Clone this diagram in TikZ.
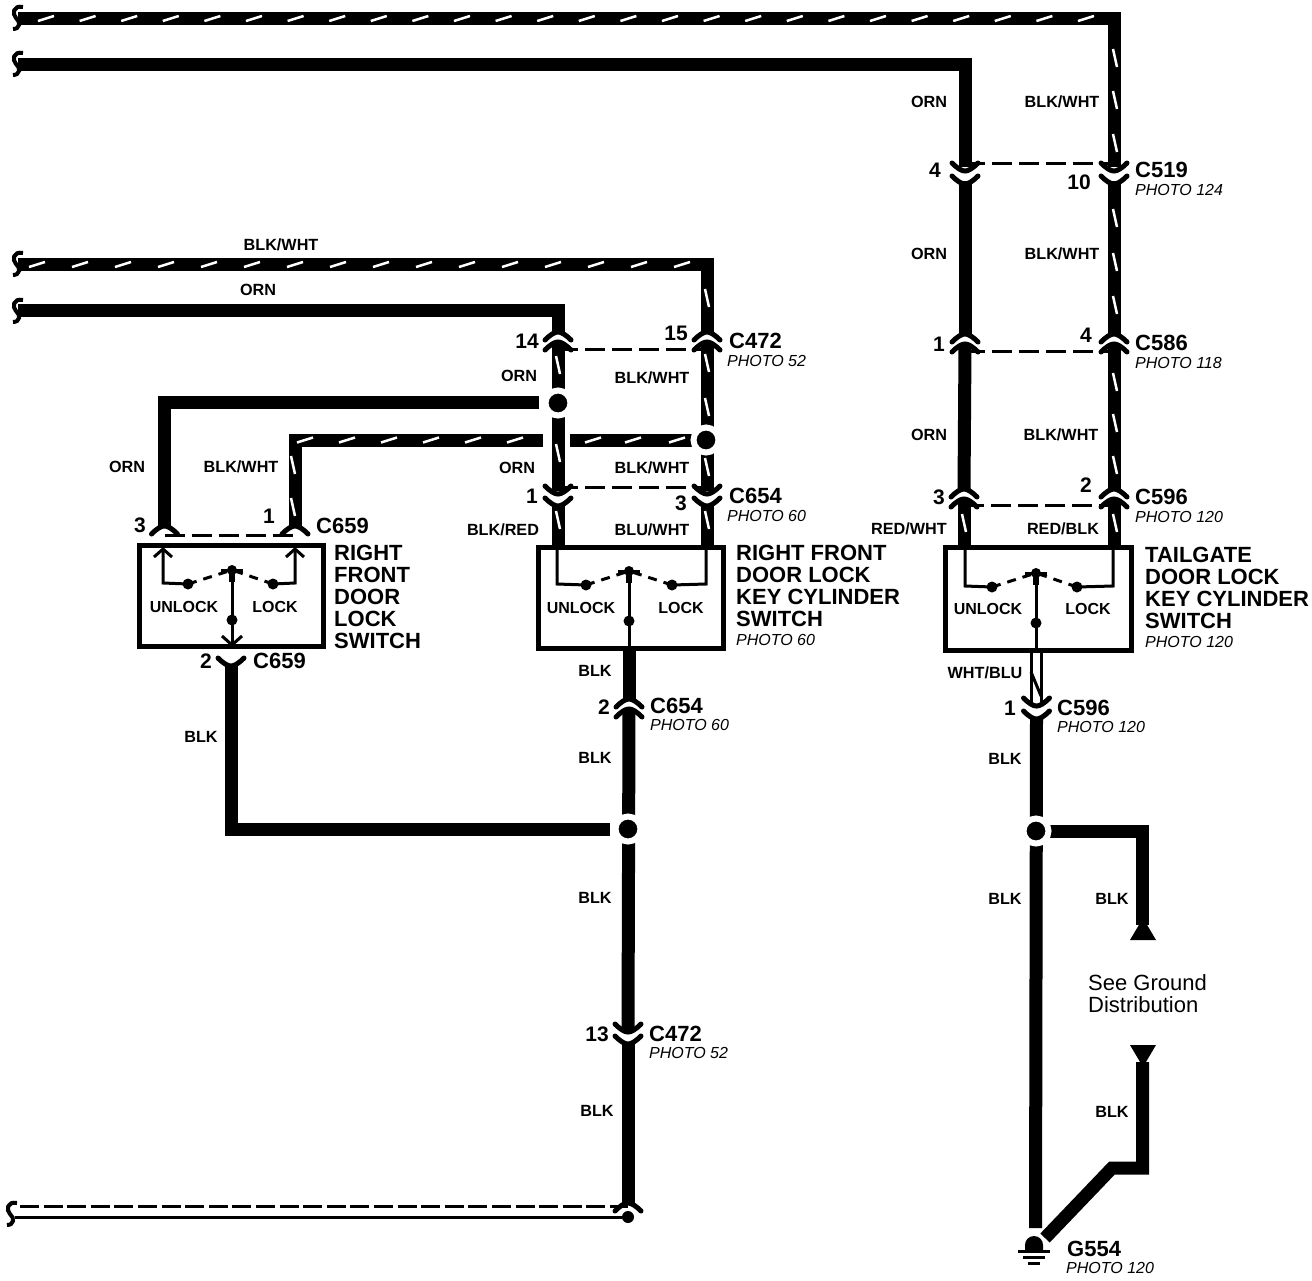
\documentclass[tikz,border=0pt]{standalone}
\usepackage{fontspec}
\usetikzlibrary{calc}
\setmainfont{Liberation Sans}
\newcommand{\chU}[2]{\draw[chev] ({#1-13},{#2+4}) .. controls ({#1-7},{#2-2}) and ({#1-3},{#2-4}) .. (#1,{#2-4}) .. controls ({#1+3},{#2-4}) and ({#1+7},{#2-2}) .. ({#1+13},{#2+4});}
\newcommand{\chD}[2]{\draw[chev] ({#1-13},{#2-4}) .. controls ({#1-7},{#2+2}) and ({#1-3},{#2+4}) .. (#1,{#2+4}) .. controls ({#1+3},{#2+4}) and ({#1+7},{#2+2}) .. ({#1+13},{#2-4});}
\newcommand{\hst}[2]{\draw[stripe] ({#1-8},{#2+2.5}) -- ({#1+8},{#2-2.5});}
\newcommand{\vst}[2]{\draw[stripe] ({#1-2},{#2-9}) -- ({#1+2},{#2+9});}
\newcommand{\brk}[2]{\draw[brkline] ({#1+7},{#2-11}) .. controls ({#1-3},{#2-13}) and ({#1-4},{#2-4}) .. (#1,{#2}) .. controls ({#1+5},{#2+4}) and ({#1+4},{#2+11}) .. ({#1-3},{#2+11});}
\newcommand{\swt}[5]{% left x, right x, centre x, top y, bottom y of the contacts
  \draw[swl,dash pattern=on 9pt off 7pt] (#1,{#4+14}) -- (#3,#4);
  \draw[swl,dash pattern=on 9pt off 7pt] (#2,{#4+14}) -- (#3,#4);
  \fill (#1,{#4+14}) circle (5.5);
  \fill (#2,{#4+14}) circle (5.5);
  \fill (#3,#4) circle (5);
  \draw[swl] ({#3-11},#4) -- ({#3+11},#4);
  \draw[swl,line width=6pt] (#3,#4) -- (#3,{#4+12});
  \draw[swl] (#3,#4) -- (#3,#5);
  \fill (#3,{#4+50}) circle (5.5);}
\tikzset{
  wire/.style={line width=13pt,line join=miter},
  chev/.style={line width=5pt,line cap=round},
  stripe/.style={white,line width=2.5pt},
  brkline/.style={line width=4pt},
  tie/.style={line width=3pt,dash pattern=on 20pt off 7pt},
  botdash/.style={line width=3pt,dash pattern=on 19pt off 4.6pt},
  swl/.style={line width=3pt},
  boxx/.style={line width=5pt},
  dotn/.style={circle,fill=black,draw=white,line width=6pt,minimum size=25pt,inner sep=0pt},
  wl/.style={font=\bfseries\fontsize{16.2}{17}\selectfont,inner sep=0pt},
  pin/.style={font=\bfseries\fontsize{21}{22}\selectfont,inner sep=0pt},
  cn/.style={font=\bfseries\fontsize{22}{22}\selectfont,inner sep=0pt,anchor=west},
  ph/.style={font=\itshape\fontsize{16}{18}\selectfont,inner sep=0pt,anchor=west},
  tt/.style={font=\bfseries\fontsize{22}{22}\selectfont,inner sep=0pt,anchor=north west,align=left},
  sw/.style={font=\bfseries\fontsize{16}{16}\selectfont,inner sep=0pt},
  gd/.style={font=\fontsize{22}{22}\selectfont,inner sep=0pt,anchor=west}
}
\begin{document}
\begin{tikzpicture}[x=1pt,y=-1pt]
\useasboundingbox (0,0) rectangle (1312,1280);
\fill[white] (0,0) rectangle (1312,1280);
% named points
\foreach \n/\x/\y in {t1/18/18.5,t1c/1114/18.5,t2/18/64.5,t2c/965/64.5,
  a519/965/167,b519/1114/167,c519/965/181,d519/1114/181,
  a586/965/336,b586/1114/336,c586/965/346,d586/1114/346,
  a596/964/491,b596/1114/491,c596/964/501,d596/1114/501,
  a472/558/334,b472/707/334,c472/558/344,d472/707/344,
  a654/558/491,b654/707/491,c654/558/506,d654/707/506,
  e659/164.5/526,f659/295/526,g659/231/666,
  h654/629/701,i654/629/711,
  j472/628/1030,k472/628/1043,
  m596/1036.5/718,
  bot/628/1203,
  s1/18/264.5,s1c/707/264.5,s2/18/310.5,s2c/558/310.5,
  o1/164.5/402.5,o2/539/402.5,
  p1/295/440,p2/543/440,p3/570/440,p4/700/440,
  b1a/558/548,b1b/707/548,b3a/964/548,b3b/1114/548,
  lo1/629/650,lo2/231/829,lo3/610/829,
  r1/1036.5/831.5,r2/1142.5/831.5,r3/1142.5/925,r4/1142.5/1062,r5/1142.5/1168,r6/1112/1168,r7/1045/1238,r8/1035.5/1228,
  w1/1031/652,w2/1041/652,w3/1031/704,w4/1041/704,
  tA1/965/163,tA2/1114/163,tB1/965/351,tB2/1114/351,tC1/964/505,tC2/1114/505,
  tD1/558/349,tD2/707/349,tE1/558/487,tE2/707/487,tF1/164.5/535,tF2/295/535,
  bdl/20/1206,bdr/628/1206,bsl/15/1217,bsr/628/1217}
  {\coordinate (\n) at (\x,\y);}
% main wires
\draw[wire] (t1) -- (t1c) -- (b519);
\draw[wire] (t2) -- (t2c) -- (a519);
\draw[wire] (c519) -- (a586);
\draw[wire] (d519) -- (b586);
\draw[wire] (c586) -- (a596);
\draw[wire] (d586) -- (b596);
\draw[wire] (c596) -- (b3a);
\draw[wire] (d596) -- (b3b);
\draw[wire] (s1) -- (s1c) -- (b472);
\draw[wire] (s2) -- (s2c) -- (a472);
\draw[wire] (c472) -- (a654);
\draw[wire] (d472) -- (b654);
\draw[wire] (c654) -- (b1a);
\draw[wire] (d654) -- (b1b);
\draw[wire] (o2) -- (o1) -- (e659);
\draw[wire] (p2) -- (p1) -- (f659);
\draw[wire] (p3) -- (p4);
\draw[wire] (g659) -- (lo2) -- (lo3);
\draw[wire] (lo1) -- (h654);
\draw[wire] (i654) -- (j472);
\draw[wire] (k472) -- (bot);
\draw[wire] (m596) -- (r8);
\draw[wire] (r1) -- (r2) -- (r3);
\draw[wire] (r4) -- (r5) -- (r6) -- (r7);
\draw[line width=3pt] (w1) -- (w3);
\draw[line width=3pt] (w2) -- (w4);
\draw[line width=3pt] (1031,672) -- (1041,696);
% tie lines
\draw[tie] (tA1) -- (tA2);
\draw[tie] (tB1) -- (tB2);
\draw[tie] (tC1) -- (tC2);
\draw[tie] (tD1) -- (tD2);
\draw[tie] (tE1) -- (tE2);
\draw[tie] (tF1) -- (tF2);
% connector chevrons
\chD{965}{167}\chD{965}{180}\chD{1114}{167}\chD{1114}{180}
\chU{965}{338}\chU{965}{348}\chU{1114}{338}\chU{1114}{348}
\chU{964}{493}\chU{964}{503}\chU{1114}{493}\chU{1114}{503}
\chU{558}{336}\chU{558}{346}\chU{707}{336}\chU{707}{346}
\chD{558}{490}\chD{558}{502}\chD{707}{490}\chD{707}{502}
\chU{164.5}{530}\chU{295}{530}
\chD{231}{662}
\chU{629}{703}\chU{629}{713}
\chD{628}{1028}\chD{628}{1040}
\chD{1036.5}{702}\chD{1036.5}{715}
\chU{628}{1207}
% bottom left lines
\draw[botdash] (bdl) -- (bdr);
\draw[line width=3pt] (bsl) -- (bsr);
\fill (bsr) circle (6);
% stripes
\foreach \x in {46,87.6,...,1100} {\hst{\x}{18.5}}
\foreach \y in {58,100,143,218,262,305,382,423,465,523} {\vst{1115}{\y}}
\vst{964}{523}
\foreach \x in {37,80,...,690} {\hst{\x}{264.5}}
\foreach \x in {305,347,...,530} {\hst{\x}{440}}
\foreach \x in {593,633,677} {\hst{\x}{440}}
\foreach \y in {298,363,407,467,520} {\vst{707}{\y}}
\foreach \y in {365,453,520} {\vst{558}{\y}}
\foreach \y in {465,507} {\vst{293}{\y}}
% break marks
\brk{16}{18}\brk{16}{64}\brk{16}{264}\brk{16}{311}\brk{10}{1214}
% junction dots
\node[dotn] (j1) at (558,403) {};
\node[dotn] (j2) at (706,440) {};
\node[dotn] (j3) at (628,829) {};
\node[dotn] (j4) at (1036,831) {};
% boxes
\node[draw,boxx,minimum width=184pt,minimum height=101pt,inner sep=0pt] (box1) at (231.5,596) {};
\node[draw,boxx,minimum width=185pt,minimum height=101pt,inner sep=0pt] (box2) at (631,597.5) {};
\node[draw,boxx,minimum width=186pt,minimum height=103pt,inner sep=0pt] (box3) at (1038.5,598.5) {};
% switch 1
\draw[swl] (163,549) -- (163,583) -- (188,584);
\draw[swl] (295,549) -- (295,583) -- (273,584);
\draw[swl] (154,557) -- (163,549) -- (172,557);
\draw[swl] (286,557) -- (295,549) -- (304,557);
\swt{188}{273}{232}{570}{645}
\draw[swl] (222,636) -- (232,645) -- (242,636);
% switch 2
\draw[swl] (557,548) -- (557,584) -- (586,585);
\draw[swl] (706,548) -- (706,584) -- (672,585);
\swt{586}{672}{629}{571}{648}
% switch 3
\draw[swl] (965,548) -- (965,586) -- (992,587);
\draw[swl] (1113,548) -- (1113,586) -- (1077,587);
\swt{992}{1077}{1036}{573}{648}
% ground triangles
\fill (1143,918) -- (1156,940) -- (1130,940) -- cycle;
\fill (1130,1045) -- (1156,1045) -- (1143,1067) -- cycle;
% ground
\fill (1025,1245) arc (180:360:9) -- (1043,1251) -- (1025,1251) -- cycle;
\draw[line width=3pt] (1018,1251) -- (1050,1251);
\draw[line width=3pt] (1023,1257) -- (1045,1257);
\draw[line width=3pt] (1028,1263) -- (1040,1263);
% wire labels
\foreach \n/\x/\y/\t in {a/929/102/ORN,b/1062/102/BLK\slash WHT,c/929/254/ORN,d/1062/254/BLK\slash WHT,e/929/435/ORN,f/1061/435/BLK\slash WHT,
 g/281/245/BLK\slash WHT,h/258/290/ORN,i/519/376/ORN,j/652/378/BLK\slash WHT,k/517/468/ORN,l/652/468/BLK\slash WHT,
 m/503/530/BLK\slash RED,n/652/530/BLU\slash WHT,o/127/467/ORN,p/241/467/BLK\slash WHT,q/909/529/RED\slash WHT,r/1063/529/RED\slash BLK,
 s/595/671/BLK,t/595/758/BLK,u/595/898/BLK,v/597/1111/BLK,w/201/737/BLK,x/985/673/WHT\slash BLU,y/1005/759/BLK,z/1005/899/BLK,aa/1112/899/BLK,ab/1112/1112/BLK}
 {\node[wl] (lab\n) at (\x,\y) {\t};}
% pin numbers
\foreach \n/\x/\y/\t in {a/935/170/4,b/1079/182/10,c/939/344/1,d/1086/335/4,e/939/497/3,f/1086/485/2,g/527/341/14,h/676/333/15,i/532/496/1,j/681/503/3,k/140/525/3,l/269/516/1,m/206/661/2,n/604/707/2,o/597/1034/13,p/1010/708/1}
 {\node[pin] (pin\n) at (\x,\y) {\t};}
% connector names
\foreach \n/\x/\y/\t in {a/1135/170/C519,b/1135/343/C586,c/1135/497/C596,d/729/341/C472,e/729/496/C654,f/316/526/C659,g/253/661/C659,h/650/706/C654,i/649/1034/C472,j/1057/708/C596,k/1067/1249/G554}
 {\node[cn] (cn\n) at (\x,\y) {\t};}
\foreach \n/\x/\y/\t in {a/1135/190/PHOTO 124,b/1135/363/PHOTO 118,c/1135/517/PHOTO 120,d/727/361/PHOTO 52,e/727/516/PHOTO 60,h/650/725/PHOTO 60,i/649/1053/PHOTO 52,j/1057/727/PHOTO 120,k/1066/1268/PHOTO 120,l/736/640/PHOTO 60,m/1145/642/PHOTO 120}
 {\node[ph] (ph\n) at (\x,\y) {\t};}
% titles
\node[tt] (tt1) at (334,545) {RIGHT\\FRONT\\DOOR\\LOCK\\SWITCH};
\node[tt] (tt2) at (736,545) {RIGHT FRONT\\DOOR LOCK\\KEY CYLINDER\\SWITCH};
\node[tt] (tt3) at (1145,547) {TAILGATE\\DOOR LOCK\\KEY CYLINDER\\SWITCH};
% switch labels
\node[sw] (s1u) at (184,607) {UNLOCK};
\node[sw] (s1l) at (275,607) {LOCK};
\node[sw] (s2u) at (581,608) {UNLOCK};
\node[sw] (s2l) at (681,608) {LOCK};
\node[sw] (s3u) at (988,609) {UNLOCK};
\node[sw] (s3l) at (1088,609) {LOCK};
\node[gd] (g1) at (1088,983) {See Ground};
\node[gd] (g2) at (1088,1005) {Distribution};
\end{tikzpicture}
\end{document}
